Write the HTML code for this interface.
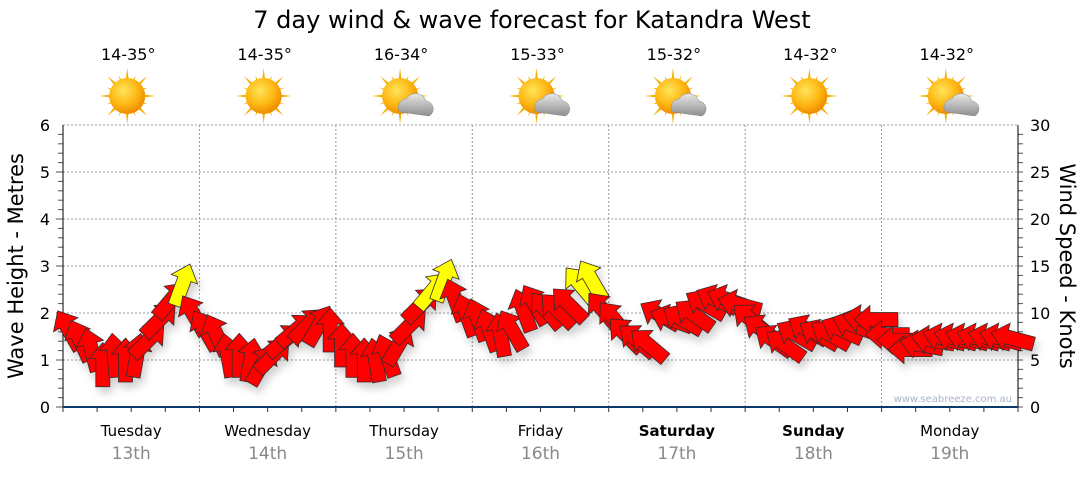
<!DOCTYPE html>
<html><head><meta charset="utf-8"><style>
body{margin:0;background:#fff;font-family:"Liberation Sans",sans-serif}
svg text{font-family:"DejaVu Sans","Liberation Sans",sans-serif}
</style></head><body>
<svg id="c" width="1080" height="475" viewBox="0 0 1080 475">
<defs>
<filter id="sh" x="-50%" y="-50%" width="200%" height="200%"><feDropShadow dx="3" dy="6" stdDeviation="4" flood-color="#000" flood-opacity="0.18"/></filter>
<radialGradient id="sun" cx="40%" cy="35%" r="65%"><stop offset="0" stop-color="#ffe45a"/><stop offset="0.6" stop-color="#fdb813"/><stop offset="1" stop-color="#f08c00"/></radialGradient>
<linearGradient id="cl" x1="0" y1="0" x2="0" y2="1"><stop offset="0" stop-color="#e8e8e8"/><stop offset="1" stop-color="#8e8e8e"/></linearGradient>
</defs>
<text x="532" y="28" font-size="24" text-anchor="middle" fill="#000">7 day wind &amp; wave forecast for Katandra West</text>
<g id="grid"></g><g id="axes"></g><g id="icons"></g>
<g id="arrows" filter="url(#sh)"></g>
<text x="1012" y="402" font-size="10" text-anchor="end" fill="#a9b4c8">www.seabreeze.com.au</text>
<text transform="translate(23,266) rotate(-90)" font-size="21" text-anchor="middle">Wave Height - Metres</text>
<text transform="translate(1060,266) rotate(90)" font-size="21" text-anchor="middle">Wind Speed - Knots</text>
</svg>
<script>
const days=["Tuesday","Wednesday","Thursday","Friday","Saturday","Sunday","Monday"];
const dates=["13th","14th","15th","16th","17th","18th","19th"];
const temps=["14-35°","14-35°","16-34°","15-33°","15-32°","14-32°","14-32°"];
const cloudy=[false,false,true,true,true,false,true];
const waveTicks=[0,1,2,3,4,5,6];
const windTicks=[0,5,10,15,20,25,30];
const windSpeed=[8.2,7.1,6.1,4.5,5.5,5,5.5,7.1,9.3,11.4,13,9.8,
8.2,7.7,5.5,5.5,5,4.5,5.5,7.1,8.2,8.7,8.7,8.2,
6.6,5.5,5,5,5.5,6.6,8.7,10.9,12.4,13.5,11.4,9.8,
9.3,8.2,7.7,8.2,10.3,10.9,10.3,10.3,10.9,13,13.5,10.3,
9.3,7.7,7.1,6.6,9.8,9.3,9.3,9.8,10.9,11.4,11.4,10.9,
9.3,8.2,7.1,6.6,7.7,8.2,7.7,7.7,8.2,8.7,9.3,9.3,
7.7,7.1,6.1,6.6,7.1,7.3,7.3,7.3,7.3,7.3,7.3,7.3];
const windDir=[-30,-25,-15,0,-5,0,10,45,45,40,20,-30,
-30,-25,-10,0,10,30,45,50,50,45,30,0,
0,0,0,-10,-20,30,45,45,40,20,-20,-20,
-20,-20,-10,-30,-20,-30,-40,-45,-45,-40,-30,-40,
-40,-45,-50,-50,-60,-70,-60,-55,-60,-65,-70,-75,
-50,-55,-55,-55,-60,-60,-60,-60,-65,-70,-80,-90,
-90,-90,-90,-80,-80,-75,-75,-75,-75,-75,-75,-75];
const NS="http://www.w3.org/2000/svg";
const X0=63,X1=1018,Y0=407,Y1=125;
const xs=i=>X0+(i+0.5)*(X1-X0)/windSpeed.length;
const yWave=v=>Y0-(v/6)*(Y0-Y1);
const yWind=v=>Y0-(v/30)*(Y0-Y1);
const dayX=d=>X0+d*(X1-X0)/7;
function mk(t,a,p){const e=document.createElementNS(NS,t);for(const k in a)e.setAttribute(k,a[k]);(p||document.getElementById('c')).appendChild(e);return e;}
const grid=document.getElementById('grid'),axes=document.getElementById('axes'),icons=document.getElementById('icons'),arr=document.getElementById('arrows');
waveTicks.forEach(v=>{
 if(v>0){const g=mk('line',{x1:X0,x2:X1,y1:yWave(v),y2:yWave(v),stroke:'#999','stroke-dasharray':'2,2','stroke-width':1},grid);
 
 }
 const t=mk('text',{x:50,y:yWave(v)+6,'font-size':16,'text-anchor':'end'},axes);t.textContent=v;
 
 
});
for(let v=0;v<=6;v+=0.2){mk('line',{x1:v%1<0.01||v%1>0.99?56:58,x2:63,y1:yWave(v),y2:yWave(v),stroke:'#555'},axes);mk('line',{x1:1018,x2:1023,y1:yWave(v),y2:yWave(v),stroke:'#555'},axes);}
windTicks.forEach(v=>{const t=mk('text',{x:1030,y:yWind(v)+6,'font-size':16},axes);t.textContent=v;
 
 });
mk('line',{x1:X0,x2:X0,y1:Y1,y2:Y0,stroke:'#000'},axes);
mk('line',{x1:X1,x2:X1,y1:Y1,y2:Y0,stroke:'#000'},axes);
mk('line',{x1:X0,x2:X1,y1:Y0,y2:Y0,stroke:'#0a3a6a','stroke-width':2},axes);
for(let h=0;h<=28;h++){const x=X0+h*(X1-X0)/28;mk('line',{x1:x,x2:x,y1:Y0,y2:Y0+5,stroke:'#333'},axes);}
days.forEach((d,i)=>{
 if(i>0){const g=mk('line',{x1:dayX(i),x2:dayX(i),y1:Y1,y2:Y0,stroke:'#999','stroke-dasharray':'2,2'},grid);}
 const cx=dayX(i)+(X1-X0)/14;
 const wk=i==4||i==5;
 const t=mk('text',{x:cx,y:436,'font-size':15,'text-anchor':'middle','font-weight':wk?'bold':'normal'},axes);t.textContent=d;
 
 
 const t2=mk('text',{x:cx,y:459,'font-size':17,'text-anchor':'middle',fill:'#888'},axes);t2.textContent=dates[i];
 
 
 const t3=mk('text',{x:cx-3,y:60,'font-size':16,'text-anchor':'middle'},icons);t3.textContent=temps[i];
 
 
 const g=mk('g',{transform:`translate(${cx-4},96)`},icons);
 
 
 for(let k=0;k<16;k++){const a=k*22.5,L=k%2?22:28;mk('polygon',{points:`-3.5,0 3.5,0 0,-${L}`,fill:'#f5b000',transform:`rotate(${a})`},g);}
 mk('circle',{r:18,fill:'url(#sun)'},g);
 if(cloudy[i]){mk('path',{d:'M0,16 a8,8 0 0 1 6,-13 a11,11 0 0 1 20,2 a8,8 0 0 1 3,15 z',fill:'url(#cl)',stroke:'#888','stroke-width':0.5},g);}
});
windSpeed.forEach((s,i)=>{
 const x=xs(i),y=yWind(s);
 const p=mk('polygon',{points:'0,-22 14,-6 7,-6 7,22 -7,22 -7,-6 -14,-6',fill:s>=12?'#ffff00':'#ff0000',stroke:'#3a2a2a','stroke-width':0.8,'stroke-linejoin':'miter',transform:`translate(${x},${y}) rotate(${windDir[i]})`},arr);
 
 
});
</script>
</body></html>
